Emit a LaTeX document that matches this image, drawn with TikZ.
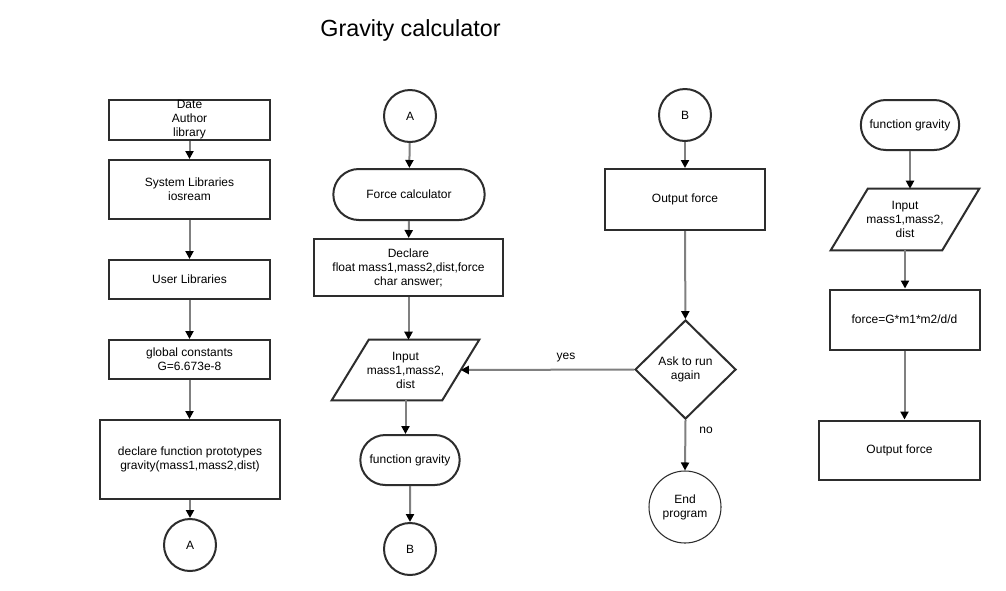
\documentclass[tikz,border=0pt]{standalone}
\usepackage{fontspec}
\setmainfont{Liberation Sans}
\usetikzlibrary{arrows.meta,shapes.geometric,shapes.misc,calc}
\definecolor{boxc}{RGB}{45,45,45}
\definecolor{linec}{RGB}{128,128,128}
\newcommand\paral[2]{\draw[shapeline] ($(#1.north west)+(#2/2,0)$) -- ($(#1.north east)+(#2/2,0)$) -- ($(#1.south east)-(#2/2,0)$) -- ($(#1.south west)-(#2/2,0)$) -- cycle;}
\begin{document}
\begin{tikzpicture}[x=0.75pt,y=-0.75pt,
  every node/.style={font=\fontsize{9}{10.5}\selectfont},
  shapeline/.style={draw=boxc, line width=1.5pt},
  sz/.style 2 args={minimum width=#1*0.75pt, minimum height=#2*0.75pt},
  box/.style={shapeline, rectangle, align=center, inner sep=1pt},
  term/.style={shapeline, rounded rectangle, align=center, inner sep=1pt},
  conn/.style={shapeline, circle, inner sep=0pt, minimum size=#1*0.75pt},
  para/.style={rectangle, align=center, inner sep=0pt},
  dec/.style={shapeline, diamond, align=center, inner sep=0pt},
  arr/.style={draw=linec, line width=1.5pt, -{Triangle[color=black,width=6pt,length=6pt]}},
  lbl/.style={inner sep=0pt}
]
\useasboundingbox (0,0) rectangle (1006,590);
\fill[white] (0,0) rectangle (1006,590);

\node[lbl, font=\fontsize{17.5}{20}\selectfont] (title) at (410.5,30) {Gravity calculator};

% column 1
\node[box, sz={161}{40}, label={[align=center, inner sep=0pt, font=\fontsize{9}{10.5}\selectfont]center:Date\\Author\\library}] (date) at (189.5,120) {};
\node[box, sz={161}{59}] (sys) at (189.5,189.5) {System Libraries\\iosream};
\node[box, sz={161}{39}] (user) at (189.5,279.5) {User Libraries};
\node[box, sz={161}{39}] (glob) at (189.5,359.5) {global constants\\G=6.673e-8};
\node[box, sz={180}{79}] (proto) at (190,459.5) {declare function prototypes\\gravity(mass1,mass2,dist)};
\node[conn=52] (a1) at (190,545) {A};

% column 2
\node[conn=52] (a2) at (410,116) {A};
\node[term, sz={154}{51}] (fcalc) at (409,194.5) {Force calculator};
\node[box, sz={189}{57}] (decl) at (408.5,267.5) {Declare\\float mass1,mass2,dist,force\\char answer;};
\node[para, sz={110}{60}] (inp2) at (405.5,370) {Input\\mass1,mass2,\\dist};
\paral{inp2}{37}
\node[term, sz={102}{50}] (fg2) at (410,460) {function gravity};
\node[conn=52] (b2) at (410,549) {B};

% column 3
\node[conn=52] (b3) at (685,115) {B};
\node[box, sz={160}{61}] (out3) at (685,199.5) {Output force};
\node[dec, sz={101}{99}] (ask) at (685.5,369.5) {Ask to run\\again};
\node[circle, draw=boxc, line width=0.8pt, align=center, inner sep=0pt, minimum size=54pt] (end) at (685,507) {End\\program};
\node[lbl] (yes) at (566,358) {yes};
\node[lbl] (no) at (706,430) {no};

% column 4
\node[term, sz={101}{50}] (fg4) at (910,125) {function gravity};
\node[para, sz={111}{61}] (inp4) at (905,219.5) {Input\\mass1,mass2,\\dist};
\paral{inp4}{37}
\node[box, sz={150}{60}] (force) at (904.5,319.5) {force=G*m1*m2/d/d};
\node[box, sz={161}{59}] (out4) at (899.5,450) {Output force};

% connectors column 1
\draw[arr] (date) -- (sys);
\draw[arr] (sys) -- (user);
\draw[arr] (user) -- (glob);
\draw[arr] (glob) -- (glob |- proto.north);
\draw[arr] (proto) -- (a1);

% connectors column 2
\draw[arr] (a2) -- (fcalc);
\draw[arr] (fcalc) -- (decl);
\draw[arr] (decl.south) -- (decl.south |- inp2.north);
\draw[arr] (inp2.south) -- (inp2.south |- fg2.north);
\draw[arr] (fg2) -- (b2);

% connectors column 3
\draw[arr] (b3) -- (out3);
\draw[arr] (out3) -- (ask);
\draw[arr] (ask.west) -- (inp2.east);
\draw[arr] (ask.south) -- (end.north);

% connectors column 4
\draw[arr] (fg4.south) -- (fg4.south |- inp4.north);
\draw[arr] (inp4.south) -- (inp4.south |- force.north);
\draw[arr] (force.south) -- (force.south |- out4.north);
\end{tikzpicture}
\end{document}
